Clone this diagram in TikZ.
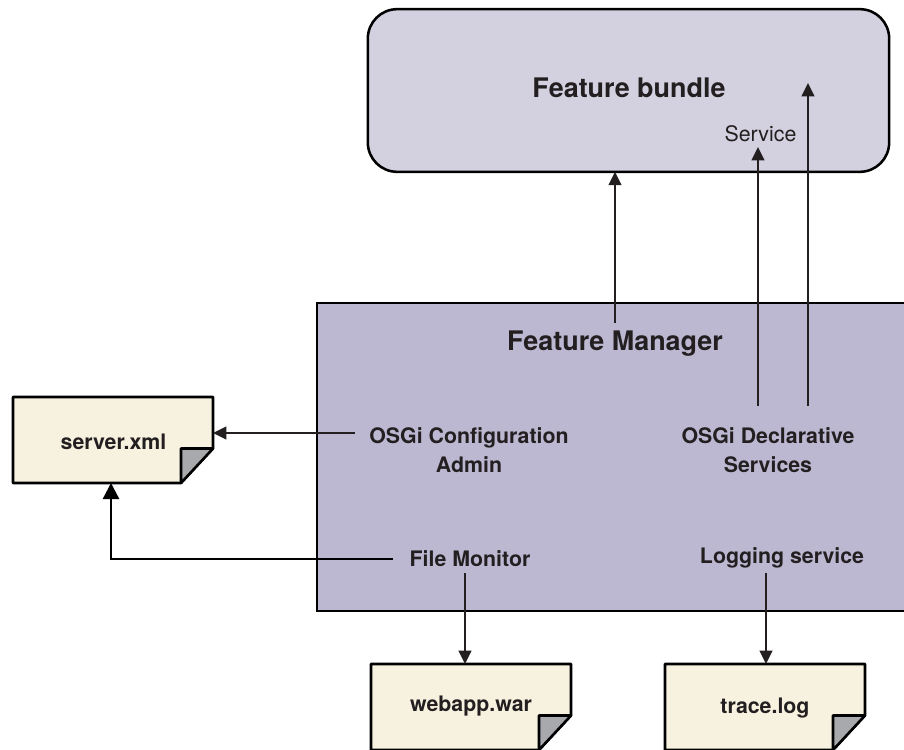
\documentclass[tikz,border=0pt]{standalone}
\usepackage{fontspec}
\setmainfont{TeX Gyre Heros}
\usetikzlibrary{arrows.meta,calc}
\definecolor{bundlefill}{HTML}{D3D1DF}
\definecolor{mgrfill}{HTML}{BDB8D2}
\definecolor{notefill}{HTML}{F7F2E0}
\definecolor{foldfill}{HTML}{A7A9AC}
\definecolor{ink}{HTML}{231F20}
\tikzset{
  x=0.75pt,y=-0.75pt,
  every node/.style={text=ink,font=\fontsize{16}{22}\selectfont\bfseries,align=center,inner sep=0pt,outer sep=0pt},
  title/.style={font=\fontsize{20.2}{24}\selectfont\bfseries},
  plainlabel/.style={font=\fontsize{16}{20}\selectfont},
  conn/.style={draw=ink,line width=1.6pt,-{Triangle[length=10pt,width=9.5pt]},line join=miter},
  bigconn/.style={draw=black,line width=1.8pt,-{Triangle[length=12pt,width=12pt]},line join=miter},
  boxline/.style={draw=black,line width=1.9pt},
  note/.style={minimum width=150pt,minimum height=64.5pt},
  notebody/.style={boxline,fill=notefill,line join=round},
  notefold/.style={boxline,fill=foldfill,line join=round},
}
\newcommand{\notepaper}[3]{% name, x-fold (px back from right), label offset
  \path[notebody] (#1.north west) -- (#1.north east) -- ($(#1.north east)+(0,51.5)$) -- ($(#1.south east)+(-32,0)$) -- (#1.south west) -- cycle;
  \path[notefold] ($(#1.north east)+(0,51.5)$) -- ($(#1.north east)+(-32,51.5)$) -- ($(#1.south east)+(-32,0)$) -- cycle;
}
\begin{document}
\begin{tikzpicture}
\useasboundingbox (0,0) rectangle (904,750);
\clip (0,0) rectangle (904,750);
\fill[white] (0,0) rectangle (904,750);

\node[minimum width=391pt,minimum height=122pt] (bundle) at (628.5,90.5) {};
\path[boxline,fill=bundlefill,rounded corners=22pt] (bundle.north west) rectangle (bundle.south east);

\node[minimum width=450pt,minimum height=231pt] (manager) at (617,457) {};
\path[boxline,fill=mgrfill] (manager.north west) rectangle (manager.south east);

\node[note] (server) at (113,440) {};
\node[note] (webapp) at (471,707) {};
\node[note] (trace) at (765,707) {};
\notepaper{server}{}{}
\notepaper{webapp}{}{}
\notepaper{trace}{}{}

\node[title] (bundlelabel) at (629,88) {Feature bundle};
\node[plainlabel] (servicelabel) at (760.5,134) {Service};
\node[title] (mgrlabel) at (615,344) {Feature Manager};
\node (cfg) at (469,450) {OSGi Configuration\\Admin};
\node (ds) at (768,450) {OSGi Declarative\\Services};
\node (monitor) at (470,559) {File Monitor};
\node (logging) at (782,558) {Logging service};
\node at (113.5,442) (serverlabel) {server.xml};
\node at (471,706) (webapplabel) {webapp.war};
\node at (765,708) (tracelabel) {trace.log};

\coordinate (mgrout) at (615,323);
\coordinate (svcout) at (758,406);
\coordinate (dsout) at (808,406);
\coordinate (dstip) at (808,83);
\coordinate (svctip) at (758,147);
\coordinate (cfgout) at (355,433);
\coordinate (monout) at (393,559);
\coordinate (monturn) at (111,559);
\coordinate (webout) at (465,573);
\coordinate (logout) at (766,573);

\draw[conn] (mgrout) -- (mgrout |- bundle.south);
\draw[conn] (svcout) -- (svctip);
\draw[conn] (dsout) -- (dstip);
\draw[conn] (cfgout) -- (cfgout -| server.east);
\draw[bigconn] (monout) -- (monturn) -- (monturn |- server.south);
\draw[conn] (webout) -- (webout |- webapp.north);
\draw[conn] (logout) -- (logout |- trace.north);
\end{tikzpicture}
\end{document}
